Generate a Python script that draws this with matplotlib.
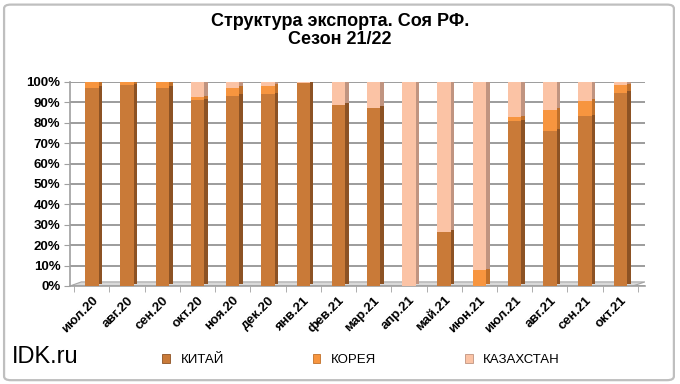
import matplotlib
matplotlib.use("Agg")
import matplotlib.pyplot as plt
import numpy as np
from matplotlib.patches import FancyBboxPatch, Polygon
from matplotlib.ticker import FuncFormatter

months = ["июл.20", "авг.20", "сен.20", "окт.20", "ноя.20", "дек.20", "янв.21", "фев.21",
          "мар.21", "апр.21", "май.21", "июн.21", "июл.21", "авг.21", "сен.21", "окт.21"]
china = [97.0, 98.4, 97.0, 91.0, 93.3, 94.0, 99.5, 88.9, 87.2, 0.0, 26.6, 0.0, 80.7, 76.0, 83.1, 94.6]
korea = [3.0, 1.6, 3.0, 1.5, 3.9, 4.0, 0.0, 0.0, 0.0, 0.0, 0.0, 7.7, 1.9, 10.4, 7.7, 3.8]
kazakhstan = [0.0, 0.0, 0.0, 7.5, 2.8, 2.0, 0.5, 11.1, 12.8, 100.0, 73.4, 92.3, 17.4, 13.6, 9.2, 1.6]
series_names = ["КИТАЙ", "КОРЕЯ", "КАЗАХСТАН"]
yticks = [0, 10, 20, 30, 40, 50, 60, 70, 80, 90, 100]

front_cols = ["#C97A38", "#F7953F", "#FBC3A5"]
side_cols = ["#8C5224", "#C0702A", "#C09480"]
top_cols = ["#D9956A", "#F9B27A", "#FDD6C2"]

plt.rcParams["font.family"] = ["Liberation Sans", "DejaVu Sans"]

fig = plt.figure(figsize=(6.8, 3.84), dpi=100)
border = FancyBboxPatch((0.006, 0.01), 0.985, 0.978, boxstyle="round,pad=0,rounding_size=0.01",
                        transform=fig.transFigure, fill=False, edgecolor="#BFBFBF", linewidth=1.6)
fig.patches.append(border)

ax = fig.add_axes([70/680, (384-286)/384, (645-70)/680, (286-82)/384])
ax.set_xlim(-0.62, 15.7)
ax.set_ylim(0, 100)

x = np.arange(len(months))
w = 0.38
sw = 0.1
data = [np.array(china), np.array(korea), np.array(kazakhstan)]
bottom = np.zeros(len(months))
for i, vals in enumerate(data):
    ax.bar(x, vals, w, bottom=bottom, color=front_cols[i], zorder=3, linewidth=0)
    ax.bar(x + w/2 + sw/2, vals, sw, bottom=bottom + 0.8, color=side_cols[i], zorder=3, linewidth=0)
    bottom = bottom + vals
tot = bottom
last_col = []
for j in range(len(months)):
    k = 2 if kazakhstan[j] > 0 else (1 if korea[j] > 0 else 0)
    last_col.append(top_cols[k])
ax.bar(x + sw/2, np.full(len(months), 0.9), w, bottom=tot, color=last_col, zorder=3, linewidth=0)

floor = Polygon([(-0.62, 0), (15.35, 0), (15.7, 2.0), (-0.3, 2.0)], closed=True,
                facecolor="#D9D9D9", edgecolor="#A6A6A6", linewidth=0.8, zorder=2)
ax.add_patch(floor)

ax.set_yticks(yticks)
ax.yaxis.set_major_formatter(FuncFormatter(lambda v, p: f"{int(v)}%"))
ax.grid(axis="y", color="#9C9C9C", linewidth=1.4, zorder=0)
ax.set_axisbelow(True)
ax.tick_params(axis="y", length=4, color="#A0A0A0", labelsize=9.5, pad=3)
for lab in ax.get_yticklabels():
    lab.set_fontweight("bold")

ax.set_xticks(x)
ax.set_xticklabels(months, rotation=45, ha="right", rotation_mode="anchor",
                   fontsize=9.5, fontweight="bold")
ax.set_xticks(np.arange(-0.5, 15.6, 1), minor=True)
ax.tick_params(axis="x", which="major", length=0, pad=6)
ax.tick_params(axis="x", which="minor", length=4, color="#A0A0A0")

for s in ["top", "right"]:
    ax.spines[s].set_visible(False)
ax.spines["left"].set_color("#A0A0A0")
ax.spines["bottom"].set_color("#A0A0A0")
ax.spines["left"].set_linewidth(1.2)
ax.spines["bottom"].set_linewidth(1.2)

fig.text(0.5, 0.965, "Структура экспорта. Соя РФ.\nСезон 21/22", ha="center", va="top",
         fontsize=13, fontweight="bold", linespacing=1.05)
fig.text(12/680, 1 - 357/384, "IDK.ru", ha="left", va="center", fontsize=17)

handles = [plt.Rectangle((0, 0), 1, 1, facecolor=front_cols[i], edgecolor=side_cols[i], linewidth=0.6)
           for i in range(3)]
leg = fig.legend(handles, series_names, loc="center", bbox_to_anchor=(0.531, 1 - 360/384), ncol=3,
                 frameon=False, handlelength=0.6, handleheight=0.6,
                 columnspacing=6.7, handletextpad=0.8,
                 prop={"family": ["Liberation Sans Narrow", "Liberation Sans"], "size": 9.5})

fig.savefig("out.png", dpi=100)
